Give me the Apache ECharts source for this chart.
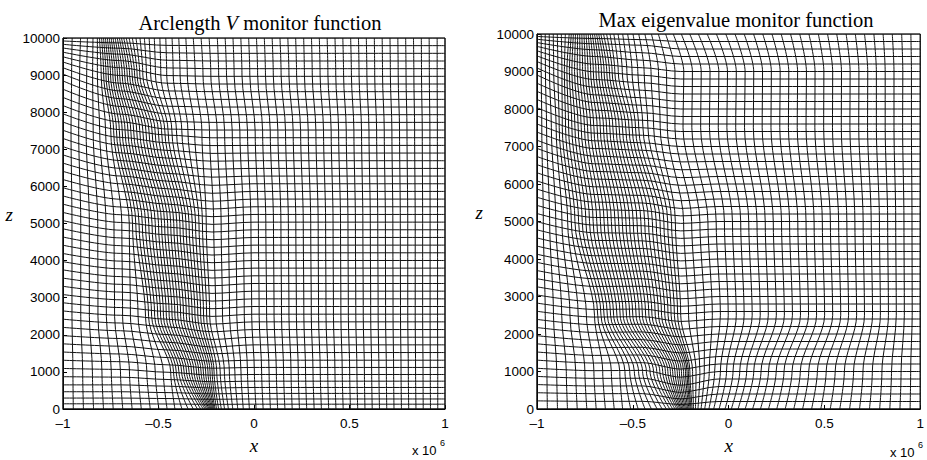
<!DOCTYPE html>
<html><head><meta charset="utf-8">
<script src="https://cdn.jsdelivr.net/npm/echarts/dist/echarts.min.js"></script>
<style>html,body{margin:0;padding:0;background:#fff}#c{width:927px;height:460px}</style>
</head><body><div id="c"></div>
<script>
// ---- data (x in units of 10^6, z in metres) ----
const zLevels = [0, 1000, 2500, 5000, 7500, 9000, 10000];
const xTicks = [-1, -0.5, 0, 0.5, 1];
const zTicks = [0, 1000, 2000, 3000, 4000, 5000, 6000, 7000, 8000, 9000, 10000];

// Arclength V panel: x position of each mesh column at each z level
const arcX_z0 = [-1,-0.946,-0.893,-0.840,-0.788,-0.737,-0.687,-0.638,-0.590,-0.543,-0.498,-0.455,-0.414,-0.377,-0.345,-0.318,-0.296,-0.279,-0.266,-0.256,-0.248,-0.241,-0.235,-0.229,-0.224,-0.219,-0.214,-0.209,-0.204,-0.196,-0.185,-0.171,-0.154,-0.134,-0.111,-0.085,-0.056,-0.024,0.011,0.048,0.086,0.124,0.162,0.200,0.238,0.276,0.315,0.353,0.391,0.429,0.467,0.505,0.543,0.581,0.619,0.657,0.695,0.733,0.772,0.810,0.848,0.886,0.924,0.962,1];
const arcX_z1000 = [-1,-0.948,-0.897,-0.846,-0.796,-0.747,-0.699,-0.652,-0.606,-0.561,-0.517,-0.475,-0.436,-0.421,-0.407,-0.393,-0.379,-0.366,-0.353,-0.340,-0.327,-0.314,-0.301,-0.289,-0.277,-0.265,-0.253,-0.241,-0.230,-0.219,-0.209,-0.195,-0.177,-0.155,-0.129,-0.100,-0.068,-0.034,0.002,0.040,0.079,0.117,0.155,0.194,0.232,0.270,0.309,0.347,0.386,0.424,0.462,0.501,0.539,0.578,0.616,0.654,0.693,0.731,0.770,0.808,0.846,0.885,0.923,0.962,1];
const arcX_z2500 = [-1,-0.953,-0.907,-0.862,-0.817,-0.773,-0.730,-0.688,-0.647,-0.607,-0.568,-0.552,-0.536,-0.520,-0.504,-0.489,-0.474,-0.459,-0.444,-0.429,-0.414,-0.399,-0.384,-0.369,-0.354,-0.339,-0.324,-0.309,-0.294,-0.279,-0.264,-0.248,-0.232,-0.200,-0.165,-0.128,-0.090,-0.051,-0.012,0.027,0.066,0.105,0.144,0.183,0.222,0.261,0.300,0.338,0.377,0.416,0.455,0.494,0.533,0.572,0.611,0.650,0.689,0.728,0.767,0.805,0.844,0.883,0.922,0.961,1];
const arcX_z5000 = [-1,-0.953,-0.907,-0.862,-0.818,-0.775,-0.733,-0.692,-0.653,-0.636,-0.619,-0.602,-0.585,-0.568,-0.551,-0.534,-0.517,-0.500,-0.484,-0.468,-0.452,-0.436,-0.420,-0.404,-0.388,-0.372,-0.356,-0.340,-0.323,-0.306,-0.288,-0.270,-0.250,-0.211,-0.172,-0.133,-0.094,-0.055,-0.016,0.023,0.062,0.102,0.141,0.180,0.219,0.258,0.297,0.336,0.375,0.414,0.453,0.492,0.531,0.570,0.609,0.648,0.688,0.727,0.766,0.805,0.844,0.883,0.922,0.961,1];
const arcX_z7500 = [-1,-0.958,-0.918,-0.879,-0.842,-0.808,-0.777,-0.750,-0.735,-0.720,-0.705,-0.690,-0.675,-0.660,-0.645,-0.630,-0.614,-0.598,-0.582,-0.566,-0.550,-0.534,-0.518,-0.501,-0.484,-0.467,-0.450,-0.430,-0.406,-0.378,-0.346,-0.311,-0.273,-0.233,-0.193,-0.154,-0.114,-0.074,-0.034,0.006,0.045,0.085,0.125,0.165,0.205,0.244,0.284,0.324,0.364,0.404,0.443,0.483,0.523,0.563,0.602,0.642,0.682,0.722,0.762,0.801,0.841,0.881,0.921,0.960,1];
const arcX_z9000 = [-1,-0.955,-0.913,-0.876,-0.845,-0.820,-0.800,-0.787,-0.775,-0.763,-0.751,-0.739,-0.727,-0.715,-0.703,-0.690,-0.677,-0.664,-0.651,-0.638,-0.625,-0.612,-0.598,-0.582,-0.563,-0.541,-0.516,-0.488,-0.457,-0.423,-0.387,-0.349,-0.308,-0.267,-0.226,-0.185,-0.144,-0.104,-0.063,-0.022,0.019,0.060,0.101,0.142,0.183,0.223,0.264,0.305,0.346,0.387,0.428,0.469,0.510,0.550,0.591,0.632,0.673,0.714,0.755,0.796,0.837,0.877,0.918,0.959,1];
const arcX_z10000 = [-1,-0.952,-0.908,-0.872,-0.843,-0.820,-0.809,-0.798,-0.788,-0.778,-0.768,-0.758,-0.748,-0.738,-0.727,-0.716,-0.705,-0.694,-0.682,-0.669,-0.654,-0.637,-0.618,-0.597,-0.574,-0.549,-0.522,-0.493,-0.462,-0.429,-0.394,-0.357,-0.318,-0.277,-0.235,-0.192,-0.151,-0.110,-0.069,-0.028,0.013,0.054,0.095,0.136,0.177,0.218,0.260,0.301,0.342,0.383,0.424,0.465,0.506,0.547,0.588,0.630,0.671,0.712,0.753,0.794,0.835,0.876,0.917,0.959,1];

// Arclength V panel: z of each mesh row at a few x positions
const arcRowXLevels = [-1, -0.7, -0.45, -0.22, 0, 1];
const arcRowZ_xm1 = [0,140,295,465,650,871,1093,1314,1536,1757,1978,2200,2421,2643,2864,3085,3307,3528,3750,3971,4192,4414,4635,4857,5078,5299,5521,5742,5964,6185,6406,6628,6849,7071,7292,7513,7735,7956,8178,8399,8620,8843,9028,9198,9353,9493,9618,9730,9830,9920,10000];
const arcRowZ_xm07 = [0,140,295,465,650,859,1067,1276,1484,1693,1901,2110,2318,2527,2735,2944,3152,3361,3569,3778,3986,4195,4403,4612,4820,5029,5237,5446,5654,5863,6071,6280,6488,6697,6905,7114,7322,7531,7739,7948,8156,8365,8573,8782,8990,9199,9389,9564,9724,9869,10000];
const arcRowZ_xm045 = [0,135,282,442,615,795,990,1190,1385,1592,1799,2005,2212,2419,2626,2833,3039,3246,3453,3660,3867,4073,4280,4487,4694,4901,5107,5314,5521,5728,5935,6141,6348,6555,6762,6969,7175,7382,7545,7750,7955,8160,8366,8573,8780,8987,9193,9400,9600,9800,10000];
const arcRowZ_xm022 = [0,125,262,410,567,735,912,1100,1290,1490,1670,1875,2082,2289,2496,2703,2909,3116,3323,3530,3737,3943,4150,4357,4564,4771,4977,5184,5391,5600,5815,6030,6250,6465,6680,6890,7100,7310,7519,7726,7933,8139,8346,8553,8760,8967,9173,9380,9587,9794,10000];
const arcRowZ_east = [0,130,270,420,580,750,930,1120,1315,1522,1729,1935,2142,2349,2556,2763,2969,3176,3383,3590,3797,4003,4210,4417,4624,4831,5037,5244,5451,5658,5865,6071,6278,6485,6692,6899,7105,7312,7519,7726,7933,8139,8346,8553,8760,8967,9173,9380,9587,9794,10000];

// Max eigenvalue panel: x position of each mesh column at each z level
const eigX_z0 = [-1,-0.946,-0.893,-0.841,-0.790,-0.740,-0.691,-0.643,-0.597,-0.553,-0.511,-0.472,-0.436,-0.403,-0.373,-0.347,-0.325,-0.307,-0.292,-0.280,-0.270,-0.262,-0.255,-0.249,-0.243,-0.237,-0.231,-0.225,-0.219,-0.213,-0.207,-0.201,-0.196,-0.190,-0.183,-0.173,-0.160,-0.144,-0.125,-0.103,-0.078,-0.050,-0.019,0.014,0.049,0.086,0.125,0.166,0.208,0.251,0.295,0.340,0.386,0.433,0.481,0.530,0.580,0.631,0.683,0.735,0.788,0.841,0.894,0.947,1];
const eigX_z1000 = [-1,-0.948,-0.897,-0.847,-0.798,-0.750,-0.703,-0.657,-0.612,-0.568,-0.541,-0.516,-0.492,-0.470,-0.449,-0.429,-0.410,-0.392,-0.375,-0.359,-0.344,-0.330,-0.317,-0.304,-0.292,-0.280,-0.268,-0.257,-0.246,-0.235,-0.225,-0.217,-0.210,-0.202,-0.188,-0.170,-0.150,-0.127,-0.101,-0.073,-0.043,-0.011,0.023,0.058,0.094,0.131,0.169,0.208,0.248,0.289,0.331,0.374,0.418,0.463,0.509,0.556,0.604,0.652,0.701,0.750,0.800,0.850,0.900,0.950,1];
const eigX_z2500 = [-1,-0.957,-0.914,-0.871,-0.828,-0.785,-0.742,-0.700,-0.683,-0.666,-0.650,-0.633,-0.616,-0.600,-0.583,-0.566,-0.550,-0.533,-0.516,-0.500,-0.483,-0.466,-0.450,-0.433,-0.416,-0.400,-0.383,-0.366,-0.350,-0.333,-0.316,-0.300,-0.283,-0.266,-0.250,-0.209,-0.168,-0.126,-0.085,-0.043,-0.002,0.040,0.081,0.123,0.165,0.207,0.249,0.291,0.333,0.375,0.417,0.459,0.501,0.543,0.585,0.626,0.668,0.709,0.751,0.792,0.834,0.875,0.917,0.958,1];
const eigX_z5000 = [-1,-0.967,-0.934,-0.902,-0.870,-0.840,-0.821,-0.802,-0.783,-0.764,-0.745,-0.726,-0.707,-0.688,-0.669,-0.650,-0.631,-0.612,-0.593,-0.574,-0.555,-0.536,-0.517,-0.498,-0.478,-0.458,-0.438,-0.418,-0.398,-0.378,-0.358,-0.338,-0.318,-0.298,-0.278,-0.235,-0.193,-0.150,-0.108,-0.065,-0.022,0.020,0.063,0.105,0.148,0.191,0.233,0.276,0.318,0.361,0.404,0.446,0.489,0.531,0.574,0.617,0.659,0.702,0.744,0.787,0.830,0.872,0.915,0.957,1];
const eigX_z7500 = [-1,-0.975,-0.950,-0.925,-0.900,-0.884,-0.868,-0.851,-0.835,-0.818,-0.802,-0.785,-0.769,-0.752,-0.736,-0.719,-0.703,-0.686,-0.670,-0.653,-0.637,-0.620,-0.604,-0.587,-0.571,-0.554,-0.537,-0.520,-0.503,-0.486,-0.469,-0.447,-0.421,-0.391,-0.357,-0.320,-0.280,-0.238,-0.192,-0.146,-0.100,-0.054,-0.009,0.037,0.083,0.129,0.175,0.221,0.267,0.312,0.358,0.404,0.450,0.496,0.542,0.588,0.633,0.679,0.725,0.771,0.817,0.863,0.908,0.954,1];
const eigX_z9000 = [-1,-0.978,-0.956,-0.935,-0.913,-0.891,-0.870,-0.857,-0.844,-0.831,-0.818,-0.804,-0.790,-0.776,-0.762,-0.748,-0.734,-0.720,-0.706,-0.692,-0.678,-0.664,-0.650,-0.636,-0.622,-0.608,-0.594,-0.576,-0.555,-0.531,-0.504,-0.474,-0.441,-0.405,-0.366,-0.324,-0.280,-0.234,-0.189,-0.143,-0.097,-0.051,-0.006,0.040,0.086,0.131,0.177,0.223,0.269,0.314,0.360,0.406,0.451,0.497,0.543,0.589,0.634,0.680,0.726,0.771,0.817,0.863,0.909,0.954,1];
const eigX_z10000 = [-1,-0.978,-0.957,-0.936,-0.915,-0.894,-0.873,-0.852,-0.832,-0.821,-0.810,-0.799,-0.788,-0.777,-0.766,-0.755,-0.744,-0.733,-0.722,-0.711,-0.700,-0.689,-0.678,-0.667,-0.653,-0.637,-0.619,-0.599,-0.577,-0.553,-0.527,-0.499,-0.469,-0.437,-0.403,-0.367,-0.329,-0.289,-0.247,-0.203,-0.158,-0.112,-0.064,-0.015,0.033,0.081,0.130,0.178,0.226,0.274,0.323,0.371,0.419,0.468,0.516,0.564,0.613,0.661,0.709,0.758,0.806,0.854,0.903,0.951,1];

// Max eigenvalue panel: z of each mesh row at a few x positions
const eigRowXLevels = [-1, -0.7, -0.45, -0.25, -0.05, 1];
const eigRowZ_xm1 = [0,217,434,652,869,1086,1303,1520,1738,1955,2172,2389,2606,2824,3041,3258,3475,3692,3910,4127,4344,4561,4778,4996,5213,5430,5647,5864,6082,6299,6516,6733,6950,7168,7385,7602,7819,8036,8254,8471,8688,8907,9095,9265,9417,9552,9670,9772,9860,9935,10000];
const eigRowZ_xm07 = [0,204,409,613,817,1022,1226,1430,1635,1839,2043,2248,2452,2656,2861,3065,3269,3474,3678,3882,4087,4291,4495,4700,4904,5108,5313,5517,5721,5926,6130,6334,6539,6743,6947,7152,7356,7560,7765,7969,8173,8378,8582,8786,8991,9195,9400,9580,9740,9880,10000];
const eigRowZ_xm045 = [0,205,410,615,820,1030,1235,1440,1645,1850,2055,2260,2462,2665,2868,3070,3272,3474,3676,3878,4080,4282,4484,4686,4888,5090,5292,5494,5696,5898,6100,6300,6500,6700,6900,7100,7300,7500,7700,7900,8100,8300,8500,8700,8900,9100,9300,9500,9700,9850,10000];
const eigRowZ_funnel = [0,120,270,445,635,850,1065,1280,1495,1710,1925,2130,2335,2540,2740,2940,3140,3340,3545,3750,3950,4150,4350,4550,4750,4950,5150,5350,5555,5760,5965,6170,6380,6590,6800,7000,7200,7400,7600,7800,8000,8200,8400,8600,8800,9000,9200,9400,9600,9800,10000];
const eigRowZ_even = [0,200,400,600,800,1000,1200,1400,1600,1800,2000,2200,2400,2600,2800,3000,3200,3400,3600,3800,4000,4200,4400,4600,4800,5000,5200,5400,5600,5800,6000,6200,6400,6600,6800,7000,7200,7400,7600,7800,8000,8200,8400,8600,8800,9000,9200,9400,9600,9800,10000];

// ---- build chart ----
const arcCols = [arcX_z0, arcX_z1000, arcX_z2500, arcX_z5000, arcX_z7500, arcX_z9000, arcX_z10000];
const arcRows = [arcRowZ_xm1, arcRowZ_xm07, arcRowZ_xm045, arcRowZ_xm022, arcRowZ_east, arcRowZ_east];
const eigCols = [eigX_z0, eigX_z1000, eigX_z2500, eigX_z5000, eigX_z7500, eigX_z9000, eigX_z10000];
const eigRows = [eigRowZ_xm1, eigRowZ_xm07, eigRowZ_xm045, eigRowZ_funnel, eigRowZ_even, eigRowZ_even];

const LS = {color: '#111', width: 1};
function meshSeries(cols, rowX, rows, gi) {
  const out = [];
  for (let j = 0; j < cols[0].length; j++) {
    out.push({type: 'line', xAxisIndex: gi, yAxisIndex: gi, symbol: 'none', silent: true,
      smooth: 0.3, smoothMonotone: 'y', lineStyle: LS,
      data: zLevels.map((z, k) => [cols[k][j], z])});
  }
  for (let i = 0; i < rows[0].length; i++) {
    out.push({type: 'line', xAxisIndex: gi, yAxisIndex: gi, symbol: 'none', silent: true,
      smooth: 0.3, smoothMonotone: 'x', lineStyle: LS,
      data: rowX.map((x, m) => [x, rows[m][i]])});
  }
  return out;
}

const fmtX = v => (v < 0 ? '\u2013' + Math.abs(v) : String(v));
const fmtZ = v => String(v);
const sans = 'Liberation Sans, Arial, Helvetica, sans-serif';
const serif = 'Liberation Serif, Times New Roman, serif';

function xAx(gi) {
  return {type: 'value', gridIndex: gi, min: xTicks[0], max: xTicks[xTicks.length - 1], interval: 0.5,
    axisLine: {show: true, onZero: false, lineStyle: {color: '#000', width: 1}},
    axisTick: {show: true, inside: true, length: 4, lineStyle: {color: '#000'}},
    axisLabel: {color: '#000', fontSize: 13.5, fontFamily: sans, margin: 7, formatter: fmtX, showMinLabel: true, showMaxLabel: true},
    splitLine: {show: false},
    name: 'x', nameLocation: 'middle', nameGap: 27,
    nameTextStyle: {fontFamily: serif, fontStyle: 'italic', fontSize: 19, color: '#000'}};
}
function yAx(gi, gap) {
  return {type: 'value', gridIndex: gi, min: zTicks[0], max: zTicks[zTicks.length - 1], interval: 1000,
    axisLine: {show: true, onZero: false, lineStyle: {color: '#000', width: 1}},
    axisTick: {show: true, inside: true, length: 4, lineStyle: {color: '#000'}},
    axisLabel: {color: '#000', fontSize: 13.5, fontFamily: sans, margin: 3, formatter: fmtZ},
    splitLine: {show: false},
    name: 'z', nameLocation: 'middle', nameRotate: 0, nameGap: gap,
    nameTextStyle: {fontFamily: serif, fontStyle: 'italic', fontSize: 19, color: '#000', verticalAlign: 'bottom'}};
}

const chart = echarts.init(document.getElementById('c'), null, {renderer: 'svg', width: 927, height: 460});
chart.setOption({
  animation: false,
  backgroundColor: '#fff',
  title: [
    {text: '{n|Arclength }{i|V}{n| monitor function}', left: 255, top: 7, textAlign: 'center',
      textStyle: {fontWeight: 'normal', rich: {n: {fontFamily: serif, fontSize: 20.5, fontWeight: 'normal', color: '#000'}, i: {fontFamily: serif, fontSize: 20.5, fontWeight: 'normal', fontStyle: 'italic', color: '#000'}}}},
    {text: 'Max eigenvalue monitor function', left: 731, top: 4, textAlign: 'center',
      textStyle: {fontFamily: serif, fontSize: 20.5, fontWeight: 'normal', color: '#000'}}
  ],
  grid: [
    {left: 63, top: 38, width: 382, height: 380, show: true, borderColor: '#000', borderWidth: 1, backgroundColor: 'transparent'},
    {left: 537, top: 34, width: 386, height: 386, show: true, borderColor: '#000', borderWidth: 1, backgroundColor: 'transparent'}
  ],
  xAxis: [xAx(0), xAx(1)],
  yAxis: [yAx(0, 50), yAx(1, 54)],
  graphic: [
    {type: 'text', left: 412, top: 444, style: {text: 'x 10', font: '13px ' + sans, fill: '#000'}},
    {type: 'text', left: 440, top: 438, style: {text: '6', font: '9px ' + sans, fill: '#000'}},
    {type: 'text', left: 890, top: 446, style: {text: 'x 10', font: '13px ' + sans, fill: '#000'}},
    {type: 'text', left: 918, top: 440, style: {text: '6', font: '9px ' + sans, fill: '#000'}}
  ],
  series: meshSeries(arcCols, arcRowXLevels, arcRows, 0).concat(meshSeries(eigCols, eigRowXLevels, eigRows, 1))
});
</script></body></html>
